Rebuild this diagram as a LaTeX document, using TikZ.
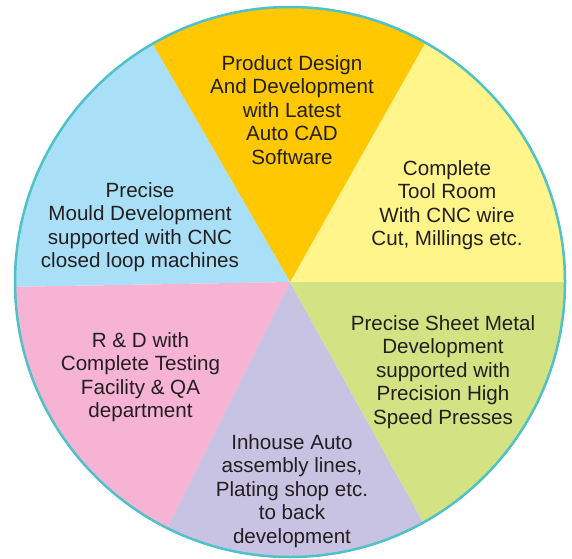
\documentclass[tikz,border=0pt]{standalone}
\usepackage{fontspec}
\setmainfont{Liberation Sans}
\definecolor{rimteal}{HTML}{4FC1C8}
\definecolor{segorange}{HTML}{FFC800}
\definecolor{segyellow}{HTML}{FFF58A}
\definecolor{segblue}{HTML}{A9E0F7}
\definecolor{segpink}{HTML}{F6B3D3}
\definecolor{seggreen}{HTML}{D3E384}
\definecolor{segpurple}{HTML}{C9C3E3}
\definecolor{inkgray}{HTML}{231F20}
\begin{document}
\begin{tikzpicture}[x=1pt,y=1pt]
      \useasboundingbox (0,0) rectangle (572,558);
      \coordinate (c) at (290,276);
      % segments
      \fill[segyellow] (c) -- ++(0:275) arc[start angle=0,end angle=60.5,radius=275] -- cycle;
      \fill[segorange] (c) -- ++(60.5:275) arc[start angle=60.5,end angle=120,radius=275] -- cycle;
      \fill[segblue] (c) -- ++(120:275) arc[start angle=120,end angle=181,radius=275] -- cycle;
      \fill[segpink] (c) -- ++(181:275) arc[start angle=181,end angle=243.5,radius=275] -- cycle;
      \fill[segpurple] (c) -- ++(243.5:275) arc[start angle=243.5,end angle=299,radius=275] -- cycle;
      \fill[seggreen] (c) -- ++(299:275) arc[start angle=299,end angle=360,radius=275] -- cycle;
      \draw[rimteal,line width=2.5pt] (c) circle[radius=275];
      \begin{scope}[every node/.style={align=center,text=inkgray,
          font=\fontsize{20.6}{23.5}\selectfont}]
        \node (design) at (292,448) {Product Design\\And Development\\with Latest\\Auto CAD\\Software};
        \node (toolroom) at (447,353) {Complete\\Tool Room\\With CNC wire\\Cut, Millings etc.};
        \node (mould) at (140,331) {Precise\\Mould Development\\supported with CNC\\closed loop machines};
        \node (testing) at (140.5,181) {R \& D with\\Complete Testing\\Facility \& QA\\department};
        \node (sheet) at (443,186) {Precise Sheet Metal\\Development\\supported with\\Precision High\\Speed Presses};
        \node (assembly) at (292,67) {Inhouse Auto\\assembly lines,\\Plating shop etc.\\to back\\development};
      \end{scope}
    \end{tikzpicture}
\end{document}
